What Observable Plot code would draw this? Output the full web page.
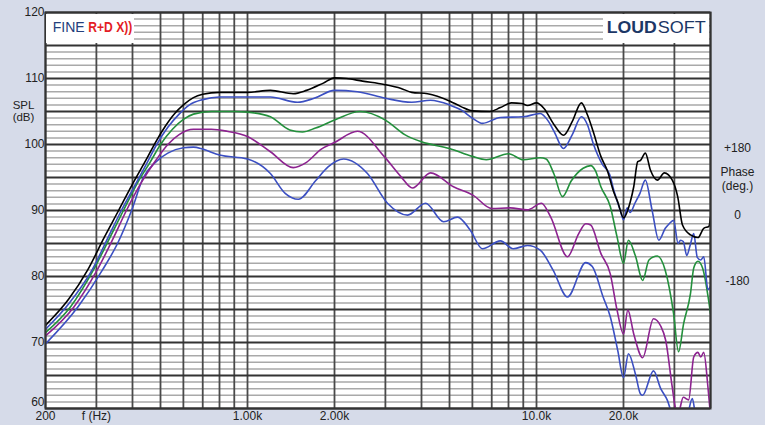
<!DOCTYPE html>
<html><head><meta charset="utf-8">
<script src="https://cdn.jsdelivr.net/npm/d3@7"></script>
<script src="https://cdn.jsdelivr.net/npm/@observablehq/plot@0.6"></script>
<style>
html,body{margin:0;padding:0;background:#d6dbe9;}
#chart{width:765px;height:425px;}
</style></head><body><div id="chart"></div>
<script>
// ---- tick values & labels ----
const freqTicks = [200,300,500,1000,2000,5000,10000,20000,40000];
const freqTickLabels = ["200","f (Hz)","500","1.00k","2.00k","5.00k","10.0k","20.0k","40.0k"];
const splTicks = [70,80,90,100,110,120];
const splBottomTick = [60];
const phaseTicks = [180,0,-180];
const phaseTickLabels = ["+180","0","-180"];
const freqGrid = [200,300,400,500,600,700,800,900,1000,2000,3000,4000,5000,6000,7000,8000,9000,10000,20000,30000,40000];
const splMinorGrid = d3.range(60,121,1).filter(v => v % 5 !== 0);
const splMajorGrid = d3.range(60,121,5);

// ---- series: [frequency Hz, SPL dB] ----
const curveBlack = [[200,72.6],[240,76.5],[280,81],[320,86],[358,90],[400,94],[450,98],[480,100.3],[520,102.8],[560,104.7],[600,106],[650,107.1],[700,107.6],[800,107.9],[1000,107.9],[1200,108.2],[1440,107.7],[1600,108.2],[1830,109.3],[2000,110.1],[2200,110.0],[2500,109.6],[2970,109.1],[3400,108.5],[3700,107.9],[4200,107.7],[5000,106.6],[5500,105.7],[6000,105.1],[6900,105.0],[7500,105.6],[8200,106.3],[8900,106.2],[9300,105.9],[10000,106.3],[10600,105.5],[11500,103],[12400,101.4],[13300,103.5],[14300,106.3],[15000,104.5],[15700,102],[16700,98.2],[17600,96],[18500,92.8],[19100,91.3],[20000,88.9],[21100,91.3],[21700,93.6],[22400,97.4],[22900,97.6],[23800,98.7],[24800,96.1],[26200,94.6],[27700,95.7],[29500,94.6],[30800,92.1],[32000,87.8],[34100,86.3],[36200,85.9],[37900,87.3],[39500,87.6],[40000,89.0]];
const curveBlue2 = [[200,72],[240,75.8],[290,81],[330,86],[366,90],[410,94],[450,97.3],[485,100],[530,102.6],[580,104.6],[630,106],[700,106.8],[800,107.2],[1000,107.2],[1200,107.2],[1490,106.4],[1700,107],[2000,108.2],[2400,108],[3000,107],[3700,106.4],[4300,106.7],[5000,106],[5500,105.2],[6000,104],[6500,103.2],[7500,104.1],[9000,104.2],[10300,104.7],[11000,103.5],[11500,102],[12400,99.4],[13300,101.5],[14300,104.2],[15000,103],[15700,100.2],[16900,97],[17900,95.5],[18500,93.1],[19500,90],[20000,88.6],[20600,90.4],[21100,89.7],[21900,91.1],[22800,92.6],[23800,94.6],[25100,90.1],[26500,85.5],[27900,87.3],[28800,88],[29800,88.5],[30900,85],[31500,85.5],[32200,85.3],[33100,83.2],[34000,84.7],[35000,86.5],[36000,82.9],[37000,82.5],[37900,83],[39200,78],[40000,78.5]];
const curveGreen = [[200,71.5],[245,75.5],[293,81],[335,86],[372,90],[420,94.5],[460,97.3],[500,100],[550,102.3],[600,103.8],[650,104.6],[750,105],[900,105],[1000,104.9],[1200,104.2],[1400,102.2],[1550,101.9],[1720,102.5],[2000,103.7],[2450,105],[3000,103.7],[3500,101.5],[4000,100.4],[5000,99.4],[6000,98.2],[6700,97.7],[8000,98.6],[9000,97.7],[10300,98],[10800,97.8],[11500,95.5],[12300,92.1],[13200,94.5],[14500,96.4],[15400,96.8],[16000,96],[16700,93.6],[18000,90.6],[19000,86],[20000,82],[20800,85.5],[22000,83.1],[23300,79.4],[24500,82.5],[26200,83.1],[27900,80.9],[29800,74.4],[31000,68.6],[32300,72.9],[34100,77.4],[35000,81.3],[36200,82.3],[37600,81.2],[40000,74.4]];
const curvePurple = [[200,71],[250,75.3],[302,81],[345,86],[381,90],[430,94.3],[480,97.5],[530,100],[580,101.5],[650,102.3],[750,102.3],[850,102],[1000,101.2],[1200,98.9],[1440,96.5],[1600,97.3],[1800,99.3],[2000,100.3],[2400,102],[2970,98.2],[3400,95.1],[3720,93.4],[4300,95.7],[5160,93.6],[6040,92.3],[7000,90.3],[8100,90.4],[9300,90.1],[10400,91.1],[11200,89],[12800,83],[14000,86.5],[14800,88],[15400,87.8],[16700,83.5],[18000,80.4],[19000,74.9],[20000,71.3],[20700,74.9],[21700,71.3],[23300,67.7],[25400,73.6],[26900,72.5],[28000,70.3],[29500,63.2],[30300,60],[31000,59.5],[32200,61.7],[33600,61.3],[35000,67.8],[36200,68.5],[37000,67.8],[37900,68.5],[39200,63.2],[40000,59]];
const curveBlue1 = [[200,69.8],[260,75.5],[315,81],[355,85],[397,90],[436,95],[480,97.3],[530,98.7],[600,99.5],[650,99.6],[700,99.3],[800,98.4],[1000,97.8],[1200,95.6],[1350,92.6],[1500,91.7],[1720,94.5],[1900,96.6],[2150,97.8],[2600,95.6],[3050,91.1],[3580,89.3],[4130,91.1],[4770,88.3],[5330,89],[5900,87],[6500,84.2],[7500,85.4],[8300,84.2],[9300,84.7],[10300,84],[11400,81],[12800,76.9],[14800,82.1],[15600,81.5],[17000,76.9],[18000,73.9],[19100,68.8],[20000,64.7],[20800,68.3],[22000,65.2],[22900,62.2],[23300,62],[25400,65.7],[26900,63],[28400,61.2],[29500,59],[31000,58],[33000,58.5],[34600,61.5],[35500,59],[37000,57]];

const series = [
  {data: curveBlue1, color: "#3b4fc2"},
  {data: curvePurple, color: "#8d2390"},
  {data: curveGreen, color: "#23903c"},
  {data: curveBlue2, color: "#3b4fc2"},
  {data: curveBlack, color: "#000000"}
];

const phaseToDb = p => 89.35 + p * 10.1 / 180;

const plot = Plot.plot({
  width: 765, height: 425,
  marginLeft: 45, marginRight: 55, marginTop: 12, marginBottom: 17,
  style: {background: "transparent", fontFamily: "'Liberation Sans', Arial, sans-serif", fontSize: "12px", color: "#222", overflow: "visible"},
  x: {type: "log", domain: [200, 40000]},
  y: {domain: [60, 120]},
  marks: [
    Plot.frame({fill: "white", stroke: null}),
    Plot.ruleY(splMinorGrid, {stroke: "#a9a9a9", strokeWidth: 1.5, ariaLabel: "hminor"}),
    Plot.ruleX(freqGrid, {stroke: "#4a4a4a", strokeWidth: 1.8, ariaLabel: "vgrid"}),
    Plot.ruleY(splMajorGrid, {stroke: "#333", strokeWidth: 2}),
    ...series.map(s => Plot.line(s.data, {x: d => d[0], y: d => d[1], stroke: s.color, strokeWidth: 1.6, curve: "monotone-x", clip: true})),
    Plot.frame({stroke: "#333", strokeWidth: 2}),
    Plot.axisX(freqTicks, {anchor: "bottom", tickSize: 0, tickPadding: 3, label: null, tickFormat: d => freqTickLabels[freqTicks.indexOf(d)]}),
    Plot.axisY(splTicks, {anchor: "left", tickSize: 0, tickPadding: 1, label: null}),
    Plot.axisY(splBottomTick, {anchor: "left", tickSize: 0, tickPadding: 1, label: null, dy: -6}),
    Plot.text(["SPL\n(dB)"], {frameAnchor: "left", textAnchor: "middle", y: () => 105.1, dx: -22, text: d => d, fontSize: 11.5, lineHeight: 1.1, fill: "#222"}),
    Plot.text(phaseTicks, {frameAnchor: "right", textAnchor: "middle", y: p => phaseToDb(p), dx: 27, text: (d, i) => phaseTickLabels[i], fill: "#222"}),
    Plot.text(["Phase\n(deg.)"], {frameAnchor: "right", textAnchor: "middle", y: () => phaseToDb(97), dx: 27, text: d => d, lineHeight: 1.1, fill: "#222"})
  ]
});

document.getElementById("chart").appendChild(plot);

// logo boxes (hide minor grid, under vertical grid)
const svg = d3.select(plot);
const before = svg.select("g[aria-label='vgrid']").node();
const boxes = svg.insert("g", () => before);
boxes.append("rect").attr("x", 46).attr("y", 14).attr("width", 88).attr("height", 29).attr("fill", "white");
boxes.append("rect").attr("x", 603).attr("y", 14).attr("width", 106).attr("height", 29).attr("fill", "white");

const logos = svg.append("g").attr("font-family", "'Liberation Sans', Arial, sans-serif").attr("text-anchor", "start");
function logoText(x, y, size, len, weight, fill, str) {
  logos.append("text").attr("x", x).attr("y", y).attr("font-size", size)
    .attr("text-anchor", "start")
    .attr("font-weight", weight).attr("fill", fill)
    .attr("textLength", len).attr("lengthAdjust", "spacingAndGlyphs").text(str);
}
logoText(52.7, 32, 15.5, 32, "normal", "#24407c", "FINE");
logoText(88.3, 32, 15.5, 44, "bold", "#e31d25", "R+D X))");
logoText(606.7, 32.5, 17, 50, "bold", "#1c3766", "LOUD");
logoText(657.7, 32.5, 17, 48, "normal", "#1c3766", "SOFT");
</script></body></html>
